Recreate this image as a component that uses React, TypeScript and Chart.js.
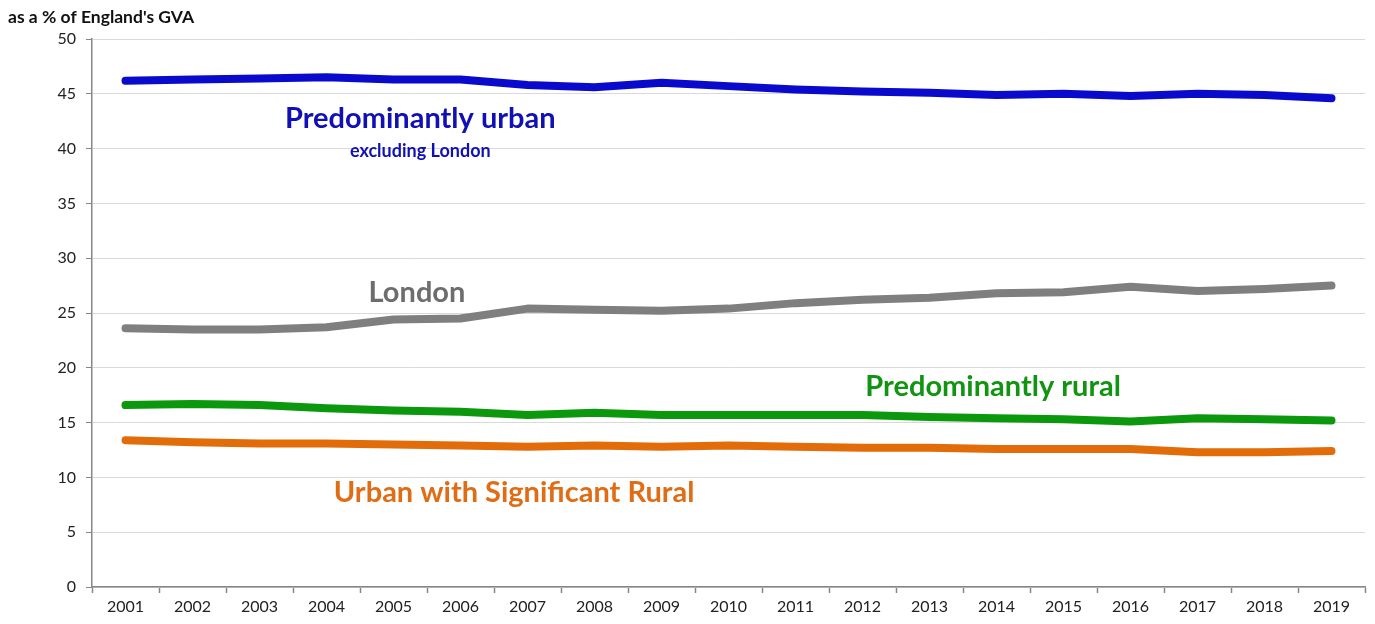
import React, { useEffect, useRef } from "react";
import { Chart, registerables } from "chart.js";

Chart.register(...registerables);

const years = ["2001","2002","2003","2004","2005","2006","2007","2008","2009","2010","2011","2012","2013","2014","2015","2016","2017","2018","2019"];
const predominantlyUrban = [46.2,46.3,46.4,46.5,46.3,46.3,45.8,45.6,46.0,45.7,45.4,45.2,45.1,44.9,45.0,44.8,45.0,44.9,44.6];
const london = [23.6,23.5,23.5,23.7,24.4,24.5,25.4,25.3,25.2,25.4,25.9,26.2,26.4,26.8,26.9,27.4,27.0,27.2,27.5];
const predominantlyRural = [16.6,16.7,16.6,16.3,16.1,16.0,15.7,15.9,15.7,15.7,15.7,15.7,15.5,15.4,15.3,15.1,15.4,15.3,15.2];
const urbanSigRural = [13.4,13.2,13.1,13.1,13.0,12.9,12.8,12.9,12.8,12.9,12.8,12.7,12.7,12.6,12.6,12.6,12.3,12.3,12.4];
const yTicks = [0,5,10,15,20,25,30,35,40,45,50];

const FONT = "Lato, 'Open Sans', sans-serif";

const labels = [
  { text: "Predominantly urban", x: 4.4, y: 42.7, color: "#1010b4", size: 29 },
  { text: "excluding London", x: 4.4, y: 39.8, color: "#1010b4", size: 18 },
  { text: "London", x: 4.35, y: 26.9, color: "#6d6d6d", size: 29 },
  { text: "Predominantly rural", x: 12.95, y: 18.3, color: "#119411", size: 29 },
  { text: "Urban with Significant Rural", x: 5.8, y: 8.6, color: "#e06c14", size: 29 },
];

const labelPlugin = {
  id: "labelPlugin",
  afterDraw(chart: any) {
    const ctx = chart.ctx;
    const xs = chart.scales.x;
    const ys = chart.scales.y;
    ctx.save();
    ctx.textAlign = "center";
    ctx.textBaseline = "middle";
    for (const l of labels) {
      const i = Math.floor(l.x);
      const f = l.x - i;
      const px = xs.getPixelForValue(i) + f * (xs.getPixelForValue(i + 1) - xs.getPixelForValue(i));
      const py = ys.getPixelForValue(l.y);
      ctx.font = `bold ${l.size}px ${FONT}`;
      ctx.fillStyle = l.color;
      ctx.fillText(l.text, px, py);
    }
    ctx.font = `bold 17.5px ${FONT}`;
    ctx.fillStyle = "#111";
    ctx.textAlign = "left";
    ctx.fillText("as a % of England's GVA", 8, 17);
    ctx.restore();
  },
};

export default function App() {
  const ref = useRef<HTMLCanvasElement>(null);
  useEffect(() => {
    document.body.style.margin = "0";
    const mk = (data: number[], color: string) => ({
      data,
      borderColor: color,
      backgroundColor: color,
      borderWidth: 8,
      pointRadius: 0,
      borderCapStyle: "round" as const,
      borderJoinStyle: "round" as const,
      tension: 0,
    });
    const chart = new Chart(ref.current!, {
      type: "line",
      data: {
        labels: years,
        datasets: [
          mk(predominantlyUrban, "#0a0acc"),
          mk(london, "#7f7f7f"),
          mk(predominantlyRural, "#0c980c"),
          mk(urbanSigRural, "#e36c0a"),
        ],
      },
      options: {
        animation: false,
        responsive: false,
        layout: { padding: { left: 0, right: 10, top: 39, bottom: 0 } },
        plugins: { legend: { display: false }, tooltip: { enabled: false } },
        scales: {
          x: {
            offset: true,
            grid: { offset: true, drawOnChartArea: false, tickLength: 6, tickColor: "#868686", tickWidth: 1.5 },
            border: { color: "#868686", width: 1.5 },
            ticks: { color: "#222", font: { family: FONT, size: 16 }, padding: 4, maxRotation: 0, autoSkip: false },
            afterFit: (s: any) => { s.height = 37; },
          },
          y: {
            min: 0,
            max: 50,
            afterBuildTicks: (s: any) => { s.ticks = yTicks.map((v) => ({ value: v })); },
            grid: { color: "#d9d9d9", lineWidth: 1, tickLength: 6, tickColor: "#868686" },
            border: { color: "#868686", width: 1.5 },
            ticks: { color: "#222", font: { family: FONT, size: 16 }, padding: 10 },
            afterFit: (s: any) => { s.width = 92; },
          },
        },
      },
      plugins: [labelPlugin],
    });
    return () => chart.destroy();
  }, []);
  return (
    <div style={{ position: "absolute", left: 0, top: 0, width: 1375, height: 624 }}>
      <canvas ref={ref} width={1375} height={624} style={{ display: "block" }} />
    </div>
  );
}
